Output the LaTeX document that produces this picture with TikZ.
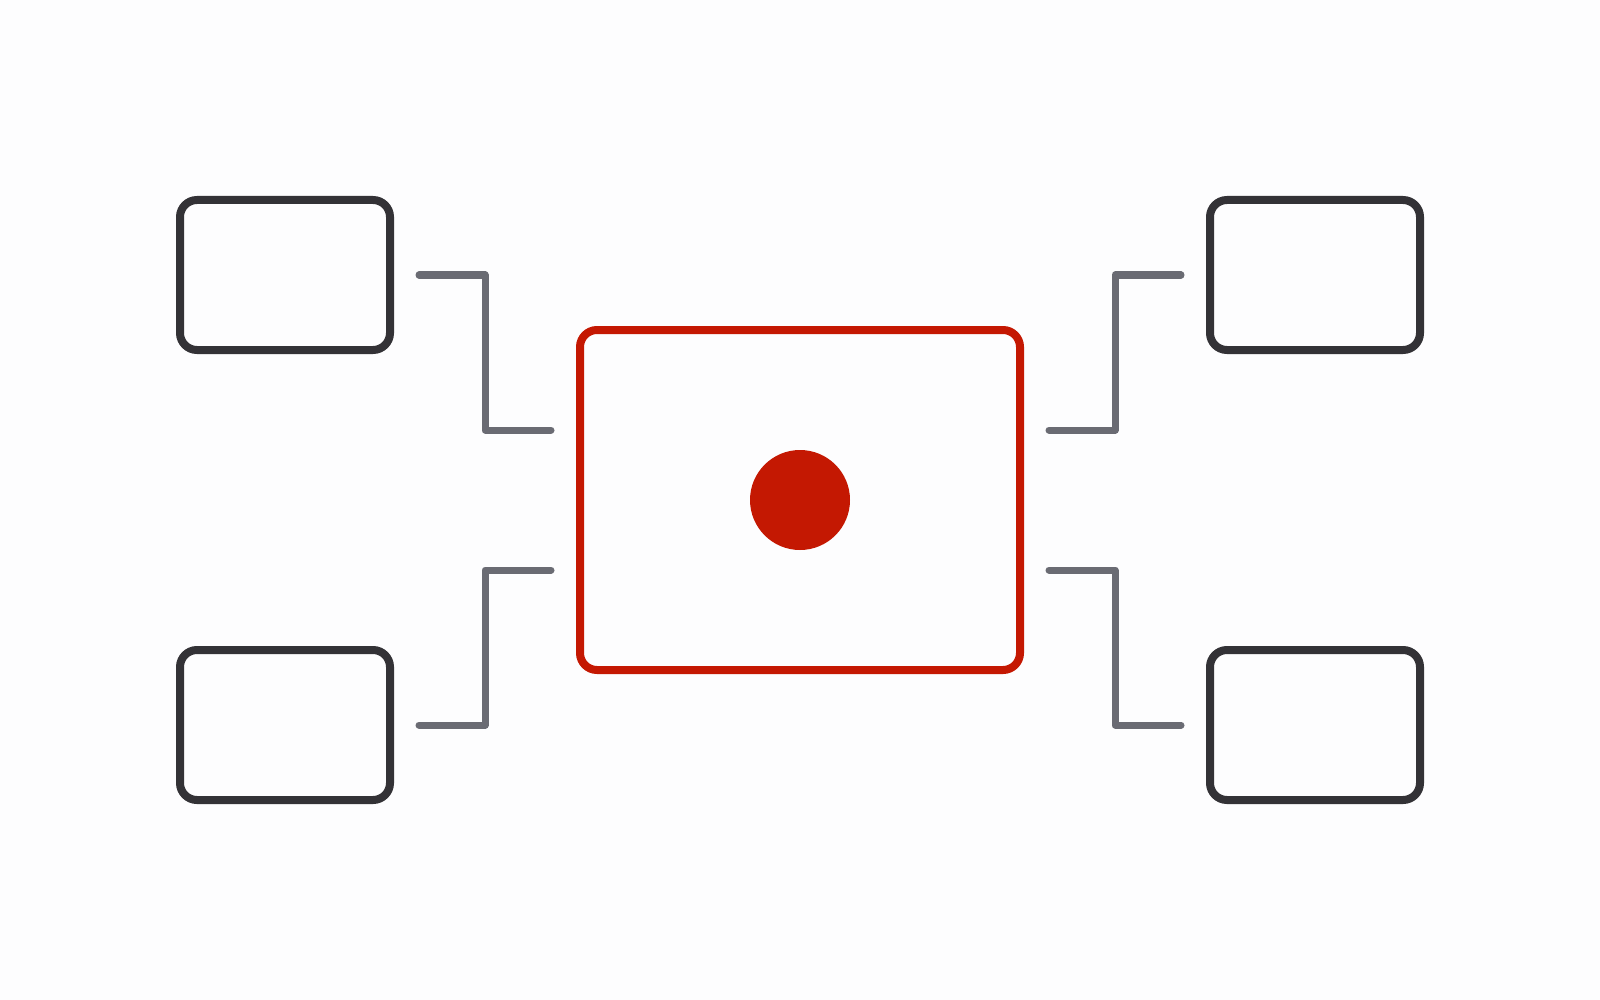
\documentclass[tikz,border=0pt]{standalone}
\usepackage{tikz}
\usetikzlibrary{positioning}

\definecolor{boxgray}{RGB}{51,50,54}
\definecolor{linkgray}{RGB}{106,107,115}
\definecolor{hubred}{RGB}{196,24,2}
\definecolor{paper}{RGB}{253,253,254}

\begin{document}
\begin{tikzpicture}[x=1pt,y=-1pt,
  leaf/.style={draw=boxgray, line width=8pt, rounded corners=17pt, minimum width=210pt, minimum height=150pt, inner sep=0pt},
  hub/.style={draw=hubred, line width=8pt, rounded corners=17pt, minimum width=440pt, minimum height=340pt, inner sep=0pt},
  link/.style={draw=linkgray, line width=7pt, line cap=round, line join=round}]
  \fill[paper] (0,0) rectangle (1600,1000);
  \node[hub] (hub) at (800,500) {};
  \fill[hubred] (hub.center) circle (50pt);
  \node[leaf] (tl) at (285,275) {};
  \node[leaf] (bl) at (285,725) {};
  \node[leaf] (tr) at (1315,275) {};
  \node[leaf] (br) at (1315,725) {};
  \coordinate (tlA) at (419,275);
  \coordinate (tlB) at (551,430);
  \coordinate (blA) at (419,725);
  \coordinate (blB) at (551,570);
  \coordinate (trA) at (1181,275);
  \coordinate (trB) at (1049,430);
  \coordinate (brA) at (1181,725);
  \coordinate (brB) at (1049,570);
  \draw[link] (tlA) -- ++(66,0) |- (tlB);
  \draw[link] (blA) -- ++(66,0) |- (blB);
  \draw[link] (trA) -- ++(-66,0) |- (trB);
  \draw[link] (brA) -- ++(-66,0) |- (brB);
\end{tikzpicture}
\end{document}
